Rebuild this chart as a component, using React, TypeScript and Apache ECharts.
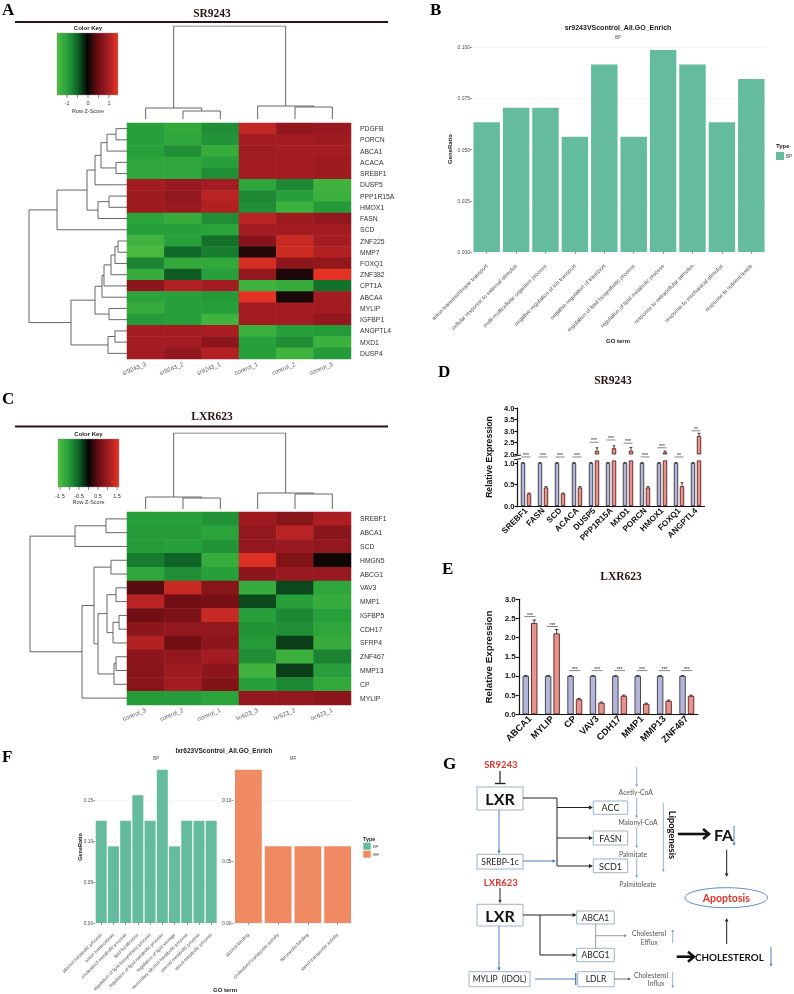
import React, { useEffect, useRef } from "react";
import * as echarts from "echarts";

const SANS = "'Liberation Sans', Arial, Helvetica, sans-serif";
const SERIF = "'Liberation Serif', 'Times New Roman', serif";
const CAL = "Lato, 'Liberation Sans', sans-serif";

// ---------------- Panel A: SR9243 heatmap ----------------
const aCols = ["sr9243_3", "sr9243_2", "sr9243_1", "control_1", "control_2", "control_3"];
const aRows = ["PDGFB", "PORCN", "ABCA1", "ACACA", "SREBF1", "DUSP5", "PPP1R15A", "HMOX1", "FASN", "SCD", "ZNF225", "MMP7", "FOXQ1", "ZNF382", "CPT1A", "ABCA4", "MYLIP", "IGFBP1", "ANGPTL4", "MXD1", "DUSP4"];
const aZ = [
  [-1.0, -1.15, -0.85, 1.2, 0.85, 0.9],
  [-1.0, -1.1, -0.9, 1.0, 1.0, 0.95],
  [-1.0, -0.85, -1.2, 0.95, 1.0, 1.0],
  [-1.1, -1.1, -1.0, 1.0, 1.0, 0.95],
  [-1.1, -1.1, -0.85, 1.0, 1.0, 0.95],
  [1.0, 0.9, 1.0, -1.1, -0.8, -1.3],
  [0.95, 0.85, 1.15, -0.8, -1.0, -1.25],
  [0.95, 0.9, 1.1, -0.85, -1.25, -0.95],
  [-1.05, -1.2, -0.85, 1.15, 0.95, 0.85],
  [-1.0, -1.0, -1.05, 1.0, 1.0, 1.0],
  [-1.3, -1.0, -0.6, 0.75, 1.25, 1.0],
  [-1.4, -0.55, -0.7, 0.15, 1.3, 1.1],
  [-0.75, -1.15, -1.15, 1.35, 0.8, 0.85],
  [-1.2, -0.45, -1.0, 0.85, 0.12, 1.45],
  [0.8, 1.1, 1.0, -1.3, -1.2, -0.6],
  [-1.05, -1.0, -0.95, 1.45, 0.1, 1.0],
  [-1.2, -1.0, -1.0, 1.0, 1.0, 1.0],
  [-0.95, -1.0, -1.3, 1.0, 1.0, 0.85],
  [1.0, 1.0, 1.05, -1.25, -1.0, -0.95],
  [1.0, 1.0, 0.8, -1.0, -0.85, -1.25],
  [1.0, 0.85, 1.1, -1.0, -1.3, -0.95],
];
type Tree = number | [Tree, Tree, number];
// merge trees: [left, right, height]
const aRowTree: Tree = [
  [[[[[[0, 1, 11], 2, 20], [3, 4, 11], 26], 5, 32], [[6, 7, 18], 8, 29], 40], 9, 70],
  [[[[[[[10, 11, 9], 12, 12], 13, 16], 14, 23], 15, 25], [16, 17, 18], 32], [[18, 19, 12], 20, 19], 56],
  98,
];
const aColTree: Tree = [[0, [1, 2, 8], 11], [3, [4, 5, 12], 13], 93];

// ---------------- Panel B: GO enrichment SR9243 ----------------
const bTerms = [
  "anion transmembrane transport",
  "cellular response to external stimulus",
  "multi-multicellular organism process",
  "negative regulation of ion transport",
  "negative regulation of transport",
  "regulation of lipid biosynthetic process",
  "regulation of lipid metabolic process",
  "response to extracellular stimulus",
  "response to mechanical stimulus",
  "response to nutrient levels",
];
const bRatio = [0.0634, 0.0704, 0.0704, 0.0563, 0.0915, 0.0563, 0.0986, 0.0915, 0.0634, 0.0845];

// ---------------- Panel C: LXR623 heatmap ----------------
const cCols = ["control_3", "control_2", "control_1", "lxr623_3", "lxr623_2", "lxr623_1"];
const cRows = ["SREBF1", "ABCA1", "SCD", "HMGN5", "ABCG1", "VAV3", "MMP1", "IGFBP5", "CDH17", "SFRP4", "ZNF467", "MMP13", "CP", "MYLIP"];
const cZ = [
  [-1.0, -1.0, -0.9, 0.95, 0.75, 1.05],
  [-0.95, -0.95, -1.05, 0.85, 1.15, 0.75],
  [-0.95, -1.0, -0.9, 0.85, 0.9, 0.85],
  [-0.7, -0.5, -1.2, 1.4, 0.7, 0.05],
  [-1.1, -0.85, -1.0, 0.8, 0.9, 0.9],
  [0.4, 1.25, 0.75, -1.2, -0.35, -1.1],
  [1.15, 0.55, 0.6, -0.35, -1.0, -1.2],
  [0.55, 0.65, 1.25, -1.0, -0.8, -1.0],
  [0.8, 0.85, 0.85, -0.9, -0.85, -1.1],
  [1.1, 0.55, 0.8, -0.95, -0.3, -1.2],
  [0.8, 0.85, 1.0, -0.85, -1.25, -0.75],
  [0.75, 0.95, 0.8, -1.3, -0.3, -1.0],
  [0.75, 1.0, 0.7, -1.0, -0.8, -1.15],
  [-0.95, -0.95, -1.05, 0.85, 0.85, 0.8],
];
const cRowTree: Tree = [
  [[0, 1, 21], 2, 52],
  [[[3, 4, 16], [[[5, 6, 11], [[7, 8, 8], 9, 14], 20], [[10, 11, 11], 12, 13], 29], 33], 13, 45],
  97,
];
const cColTree: Tree = [[0, [1, 2, 11], 12], [3, [4, 5, 15], 16], 76];

// ---------------- Panel D: qPCR SR9243 ----------------
const dGenes = ["SREBF1", "FASN", "SCD", "ACACA", "DUSP5", "PPP1R15A", "MXD1", "PORCN", "HMOX1", "FOXQ1", "ANGPTL4"];
const dCtrl = [1, 1, 1, 1, 1, 1, 1, 1, 1, 1, 1];
const dCtrlErr = [0.01, 0.01, 0.01, 0.01, 0.01, 0.01, 0.01, 0.01, 0.01, 0.01, 0.01];
const dTreat = [0.29, 0.43, 0.29, 0.43, 2.14, 2.25, 2.14, 0.43, 2.07, 0.46, 2.78];
const dTreatErr = [0.01, 0.02, 0.01, 0.02, 0.13, 0.11, 0.14, 0.02, 0.06, 0.08, 0.12];
const dSig = ["***", "***", "***", "***", "***", "***", "***", "***", "***", "**", "**"];
const dSigY = [1.14, 1.14, 1.14, 1.14, 2.51, 2.61, 2.47, 1.14, 2.27, 1.14, 3.01];

// ---------------- Panel E: qPCR LXR623 ----------------
const eGenes = ["ABCA1", "MYLIP", "CP", "VAV3", "CDH17", "MMP1", "MMP13", "ZNF467"];
const eCtrl = [1, 1, 1, 1, 1, 1, 1, 1];
const eCtrlErr = [0.01, 0.01, 0.01, 0.01, 0.01, 0.01, 0.01, 0.01];
const eTreat = [2.38, 2.11, 0.39, 0.3, 0.48, 0.27, 0.35, 0.48];
const eTreatErr = [0.08, 0.1, 0.02, 0.02, 0.02, 0.02, 0.02, 0.02];
const eSig = ["***", "***", "***", "***", "***", "***", "***", "***"];
const eSigY = [2.55, 2.29, 1.14, 1.14, 1.14, 1.14, 1.14, 1.14];

// ---------------- Panel F: GO enrichment LXR623 ----------------
const fBpTerms = [
  "alcohol metabolic process",
  "anion homeostasis",
  "cholesterol metabolic process",
  "lipid localization",
  "regulation of lipid biosynthetic process",
  "regulation of lipid metabolic process",
  "regulation of lipid storage",
  "secondary alcohol metabolic process",
  "steroid metabolic process",
  "sterol metabolic process",
];
const fBpRatio = [0.125, 0.09375, 0.125, 0.15625, 0.125, 0.1875, 0.09375, 0.125, 0.125, 0.125];
const fMfTerms = ["alcohol binding", "cholesterol transporter activity", "fibronectin binding", "sterol transporter activity"];
const fMfRatio = [0.125, 0.0625, 0.0625, 0.0625];

// ---------------- styles ----------------
const HEAT = ["#4fbf3f", "#27a03b", "#0e6526", "#050505", "#6c0e12", "#a31c22", "#eb3524"];
const TEAL = "#64bb9d";
const SALMON = "#ef8a62";
const BLUEBAR = "#b5b5dc";
const REDBAR = "#e7928d";
const RED = "#e3312b";
const BLUE = "#4f7fb8";
const LBLUE = "#7d9dc6";
const BOXS = "#9fb3c9";

function dendroSegs(t: Tree, out: number[][][]): { p: number; h: number } {
  if (typeof t === "number") return { p: t + 0.5, h: 0 };
  const l = dendroSegs(t[0], out);
  const r = dendroSegs(t[1], out);
  out.push([[l.p, l.h], [l.p, t[2]], [r.p, t[2]], [r.p, r.h]]);
  return { p: (l.p + r.p) / 2, h: t[2] };
}

const tickFmt = (step: number, dec: number) => (v: number) =>
  Math.abs(v / step - Math.round(v / step)) < 1e-6 ? v.toFixed(dec) : "";

function txt(x: number, y: number, text: string, o: any = {}) {
  const { rotation, ...st } = o;
  return {
    type: "text",
    x,
    y,
    rotation: rotation || 0,
    silent: true,
    style: { text, fontSize: 8, fill: "#111", fontFamily: SANS, align: "center", verticalAlign: "middle", ...st },
  };
}
function ln(x1: number, y1: number, x2: number, y2: number, color = "#222", lw = 1) {
  return { type: "line", silent: true, shape: { x1, y1, x2, y2 }, style: { stroke: color, lineWidth: lw } };
}
function arrow(x1: number, y1: number, x2: number, y2: number, color = "#222", lw = 1, hs = 4) {
  const dx = x2 - x1, dy = y2 - y1;
  const L = Math.hypot(dx, dy);
  const ux = dx / L, uy = dy / L;
  const bx = x2 - ux * hs, by = y2 - uy * hs;
  const w = hs * 0.5;
  return [
    ln(x1, y1, bx + ux * 0.5, by + uy * 0.5, color, lw),
    {
      type: "polygon",
      silent: true,
      shape: { points: [[x2, y2], [bx - uy * w, by + ux * w], [bx + uy * w, by - ux * w]] },
      style: { fill: color },
    },
  ];
}
function bigArrow(x1: number, y: number, x2: number) {
  return [
    ln(x1, y, x2 - 1, y, "#111", 2.6),
    { type: "polyline", silent: true, shape: { points: [[x2 - 6, y - 5], [x2, y], [x2 - 6, y + 5]] }, style: { stroke: "#111", lineWidth: 2.6, fill: null } },
  ];
}
function box(x: number, y: number, w: number, h: number) {
  return { type: "rect", silent: true, shape: { x, y, width: w, height: h }, style: { fill: "#fff", stroke: BOXS, lineWidth: 1 } };
}

function buildOption() {
  const grid: any[] = [];
  const xAxis: any[] = [];
  const yAxis: any[] = [];
  const series: any[] = [];
  const g: any[] = [];
  const addGrid = (gr: any, xa: any, ya: any) => {
    const i = grid.length;
    grid.push({ outerBoundsMode: "none", containLabel: false, ...gr });
    xAxis.push({ gridIndex: i, ...xa });
    yAxis.push({ gridIndex: i, ...ya });
    return i;
  };
  const hv = (min: number, max: number, inverse = false) => ({ type: "value", min, max, inverse, show: false, splitLine: { show: false } });
  const linesSeries = (gi: number, segs: number[][][]) => ({
    type: "lines",
    coordinateSystem: "cartesian2d",
    xAxisIndex: gi,
    yAxisIndex: gi,
    polyline: true,
    silent: true,
    lineStyle: { color: "#555", width: 0.9, opacity: 1 },
    data: segs.map((s) => ({ coords: s })),
  });

  const heatIdx: number[] = [];
  const heatPanel = (cols: string[], rows: string[], Z: number[][], rowTree: Tree, colTree: Tree, top: number, height: number, colTop: number, colH: number) => {
    const gi = addGrid(
      { left: 127, top, width: 224, height },
      {
        type: "category",
        data: cols,
        axisLine: { show: false },
        axisTick: { show: false },
        splitLine: { show: false },
        axisLabel: { interval: 0, rotate: 22, fontSize: 6, color: "#555", fontFamily: SANS, margin: 5 },
      },
      {
        type: "category",
        data: rows,
        inverse: true,
        position: "right",
        axisLine: { show: false },
        axisTick: { show: false },
        splitLine: { show: false },
        axisLabel: { interval: 0, fontSize: 6.8, color: "#333", fontFamily: SANS, margin: 9 },
      }
    );
    const data: number[][] = [];
    Z.forEach((r, i) => r.forEach((v, j) => data.push([j, i, v])));
    heatIdx.push(series.length);
    series.push({ type: "heatmap", xAxisIndex: gi, yAxisIndex: gi, data, silent: true, itemStyle: { borderWidth: 0 }, emphasis: { disabled: true } });
    const cs: number[][][] = [];
    dendroSegs(colTree, cs);
    const cg = addGrid({ left: 127, top: colTop, width: 224, height: colH }, hv(0, cols.length), hv(0, colH));
    series.push(linesSeries(cg, cs));
    const rs: number[][][] = [];
    dendroSegs(rowTree, rs);
    const rg = addGrid({ left: 27, top, width: 100, height }, hv(0, 100, true), hv(0, rows.length, true));
    series.push(linesSeries(rg, rs.map((s) => s.map(([p, h]) => [h, p]))));
  };

  heatPanel(aCols, aRows, aZ, aRowTree, aColTree, 123, 236, 26, 93);
  heatPanel(cCols, cRows, cZ, cRowTree, cColTree, 512, 193, 433, 76);

  // ---- GO bar panels (B, F) ----
  const goX = (terms: string[], fs: number, offset: number) => ({
    type: "category",
    data: terms,
    offset,
    axisLine: { show: false },
    axisTick: { show: true, alignWithLabel: true, length: 2, lineStyle: { color: "#555", width: 0.6 } },
    splitLine: { show: false },
    axisLabel: { interval: 0, rotate: 45, fontSize: fs, color: "#4d4d4d", fontFamily: SANS, margin: 3 },
  });
  const goY = (max: number, step: number, dec: number, fs: number) => ({
    type: "value",
    min: 0,
    max,
    interval: step,
    axisLine: { show: false },
    axisTick: { show: true, length: 2, lineStyle: { color: "#555", width: 0.6 } },
    axisLabel: { fontSize: fs, color: "#4d4d4d", fontFamily: SANS, margin: 2, formatter: tickFmt(step, dec), showMaxLabel: false },
    splitLine: { show: true, showMaxLine: false, lineStyle: { color: "#f0f0f0", width: 0.6 } },
  });
  const bg = addGrid({ left: 472, top: 40, width: 294, height: 212 }, goX(bTerms, 5.5, 10), goY(0.1035, 0.025, 3, 5));
  series.push({ type: "bar", xAxisIndex: bg, yAxisIndex: bg, data: bRatio, barCategoryGap: "10%", silent: true, itemStyle: { color: TEAL } });

  const fl = addGrid({ left: 95.1, top: 762, width: 122.2, height: 161 }, goX(fBpTerms, 4.7, 8), goY(0.197, 0.05, 2, 4.8));
  series.push({ type: "bar", xAxisIndex: fl, yAxisIndex: fl, data: fBpRatio, barCategoryGap: "10%", silent: true, itemStyle: { color: TEAL } });
  const fr = addGrid({ left: 233.5, top: 762, width: 119, height: 161 }, goX(fMfTerms, 4.7, 8), goY(0.13125, 0.05, 2, 4.8));
  series.push({ type: "bar", xAxisIndex: fr, yAxisIndex: fr, data: fMfRatio, barCategoryGap: "10%", silent: true, itemStyle: { color: SALMON } });

  // ---- qPCR panels (D, E) ----
  const blackAxis = { show: true, lineStyle: { color: "#111", width: 1.2 } };
  const yLab = (fs: number, extra: any = {}) => ({ fontSize: fs, fontWeight: "bold", color: "#111", fontFamily: SANS, margin: 3, formatter: (v: number) => v.toFixed(1), ...extra });
  const errSeries = (gi: number, vals: number[], errs: number[], off: number, keep: (v: number) => boolean, cap: number) => ({
    type: "custom",
    xAxisIndex: gi,
    yAxisIndex: gi,
    silent: true,
    clip: false,
    z: 5,
    data: vals.map((v, i) => [i, v, errs[i]]).filter((d) => keep(d[1])),
    renderItem: (_p: any, api: any) => {
      const i = api.value(0), v = api.value(1), e = api.value(2);
      const p0 = api.coord([i, v]);
      const p1 = api.coord([i, v + e]);
      const x = p0[0] + off;
      return {
        type: "group",
        children: [
          { type: "line", shape: { x1: x, y1: p0[1], x2: x, y2: p1[1] }, style: { stroke: "#111", lineWidth: 0.8 } },
          { type: "line", shape: { x1: x - cap, y1: p1[1], x2: x + cap, y2: p1[1] }, style: { stroke: "#111", lineWidth: 0.8 } },
        ],
      };
    },
  });
  const sigSeries = (gi: number, ys: number[], sig: string[], keep: (v: number) => boolean, hw: number) => ({
    type: "custom",
    xAxisIndex: gi,
    yAxisIndex: gi,
    silent: true,
    clip: false,
    z: 6,
    data: ys.map((v, i) => [i, v]).filter((d) => keep(d[1])),
    renderItem: (_p: any, api: any) => {
      const i = api.value(0), y = api.value(1);
      const p = api.coord([i, y]);
      return {
        type: "group",
        children: [
          { type: "line", shape: { x1: p[0] - hw, y1: p[1], x2: p[0] + hw, y2: p[1] }, style: { stroke: "#333", lineWidth: 0.6 } },
          { type: "text", x: p[0], y: p[1] + 0.5, style: { text: sig[i], fontSize: 5, fill: "#222", fontFamily: SANS, align: "center", verticalAlign: "bottom" } },
        ],
      };
    },
  });
  const barStyle = (c: string, b: string) => ({ color: c, borderColor: b, borderWidth: 0.8 });

  const dUp = addGrid(
    { left: 517.5, top: 408, width: 187, height: 46 },
    { type: "category", data: dGenes, show: false },
    { type: "value", min: 2, max: 4, interval: 0.5, axisLine: blackAxis, axisTick: { show: true, length: 3, lineStyle: { color: "#111", width: 1.2 } }, axisLabel: yLab(7.5), splitLine: { show: false } }
  );
  const dLo = addGrid(
    { left: 517.5, top: 460.85, width: 187, height: 45.15 },
    {
      type: "category",
      data: dGenes,
      axisLine: blackAxis,
      axisTick: { show: false },
      axisLabel: { interval: 0, rotate: 45, fontSize: 8.3, fontWeight: "bold", color: "#111", fontFamily: SANS, margin: 3 },
    },
    {
      type: "value",
      min: 0,
      max: 1.05,
      axisLine: blackAxis,
      axisTick: { show: true, customValues: [0, 0.5, 1], length: 3, lineStyle: { color: "#111", width: 1.2 } },
      axisLabel: yLab(7.5, { customValues: [0, 0.5, 1] }),
      splitLine: { show: false },
    }
  );
  const dBar = (gi: number, vals: any[], style: any) => ({ type: "bar", xAxisIndex: gi, yAxisIndex: gi, data: vals, barWidth: 4.3, barGap: "40%", silent: true, itemStyle: style });
  series.push(dBar(dUp, dCtrl.map(() => "-"), barStyle(BLUEBAR, "#222")));
  series.push(dBar(dUp, dTreat.map((v) => (v >= 2 ? v : "-")), barStyle(REDBAR, "#4a1010")));
  series.push(dBar(dLo, dCtrl, barStyle(BLUEBAR, "#222")));
  series.push(dBar(dLo, dTreat, barStyle(REDBAR, "#4a1010")));
  series.push(errSeries(dLo, dCtrl, dCtrlErr, -3, (v) => v <= 1.05, 1.4));
  series.push(errSeries(dLo, dTreat, dTreatErr, 3, (v) => v <= 1.05, 1.4));
  series.push(errSeries(dUp, dTreat, dTreatErr, 3, (v) => v >= 2, 1.4));
  series.push(sigSeries(dLo, dSigY, dSig, (v) => v < 2, 4.5));
  series.push(sigSeries(dUp, dSigY, dSig, (v) => v >= 2, 4.5));

  const eg = addGrid(
    { left: 518.8, top: 599.3, width: 179.2, height: 115 },
    {
      type: "category",
      data: eGenes,
      axisLine: blackAxis,
      axisTick: { show: false },
      axisLabel: { interval: 0, rotate: 45, fontSize: 9.3, fontWeight: "bold", color: "#111", fontFamily: SANS, margin: 3 },
    },
    { type: "value", min: 0, max: 3, interval: 0.5, axisLine: blackAxis, axisTick: { show: true, length: 3, lineStyle: { color: "#111", width: 1.2 } }, axisLabel: yLab(8), splitLine: { show: false } }
  );
  const eBar = (vals: number[], style: any) => ({ type: "bar", xAxisIndex: eg, yAxisIndex: eg, data: vals, barWidth: 6.3, barGap: "35%", silent: true, itemStyle: style });
  series.push(eBar(eCtrl, barStyle(BLUEBAR, "#222")));
  series.push(eBar(eTreat, barStyle(REDBAR, "#4a1010")));
  series.push(errSeries(eg, eCtrl, eCtrlErr, -4.2, () => true, 1.8));
  series.push(errSeries(eg, eTreat, eTreatErr, 4.2, () => true, 1.8));
  series.push(sigSeries(eg, eSigY, eSig, () => true, 5.5));

  // ---------------- graphics ----------------
  const letter = (x: number, y: number, t: string) => txt(x, y, t, { fontSize: 17, fontWeight: "bold", fontFamily: SERIF, align: "left", fill: "#000" });
  g.push(letter(2, 9, "A"), letter(430, 9, "B"), letter(2, 398, "C"), letter(438, 371, "D"), letter(442, 568, "E"), letter(2, 756, "F"), letter(443, 763, "G"));

  const heatTitle = (y: number, t: string, ly: number) => {
    g.push(txt(212, y, t, { fontSize: 11.5, fontWeight: "bold", fontFamily: SERIF, fill: "#2a1414" }));
    g.push(ln(15, ly, 388, ly, "#2a1414", 1.8));
  };
  heatTitle(13, "SR9243", 22);
  heatTitle(416, "LXR623", 426.5);

  const colorKey = (x0: number, y0: number, w: number, h: number, cx: number, unit: number, ticks: number[], labels: number[], titleY: number, labY: number, zY: number) => {
    g.push({
      type: "rect",
      silent: true,
      shape: { x: x0, y: y0, width: w, height: h },
      style: {
        fill: new echarts.graphic.LinearGradient(0, 0, 1, 0, HEAT.map((c, i) => ({ offset: i / (HEAT.length - 1), color: c }))),
        stroke: "#888",
        lineWidth: 0.4,
      },
    });
    g.push(txt(cx, titleY, "Color Key", { fontSize: 6, fontWeight: "bold", fill: "#222" }));
    ticks.forEach((v) => g.push(ln(cx + v * unit, y0 + h, cx + v * unit, y0 + h + 3, "#444", 0.6)));
    labels.forEach((v) => g.push(txt(cx + v * unit, labY, String(v), { fontSize: 5.5, fill: "#333" })));
    g.push(txt(cx, zY, "Row Z-Score", { fontSize: 5.5, fill: "#333" }));
  };
  colorKey(57, 33, 61, 62, 88, 21, [-1, -0.5, 0, 0.5, 1], [-1, 0, 1], 28, 103, 111);
  colorKey(58, 439, 61, 48, 88.5, 19, [-1.5, -1, -0.5, 0, 0.5, 1, 1.5], [-1.5, -0.5, 0.5, 1.5], 434, 496, 502);

  // B texts
  g.push(txt(618, 27, "sr9243VScontrol_All.GO_Enrich", { fontSize: 7, fontWeight: "bold", fill: "#222" }));
  g.push(txt(618, 37.3, "BP", { fontSize: 4.5, fill: "#555" }));
  g.push(txt(450, 149, "GeneRatio", { fontSize: 6, fontWeight: "bold", fill: "#222", rotation: Math.PI / 2 }));
  g.push(txt(618, 341, "GO term", { fontSize: 6, fontWeight: "bold", fill: "#222" }));
  g.push(txt(776, 146, "Type", { fontSize: 6, fontWeight: "bold", fill: "#222", align: "left" }));
  g.push({ type: "rect", silent: true, shape: { x: 776, y: 152, width: 8, height: 8 }, style: { fill: TEAL } });
  g.push(txt(786, 156, "BP", { fontSize: 4.5, fill: "#444", align: "left" }));

  // F texts
  g.push(txt(224, 750, "lxr623VScontrol_All.GO_Enrich", { fontSize: 6.5, fontWeight: "bold", fill: "#222" }));
  g.push(txt(156, 758, "BP", { fontSize: 4.5, fill: "#555" }));
  g.push(txt(293, 758, "MF", { fontSize: 4.5, fill: "#555" }));
  g.push(txt(80, 847, "GeneRatio", { fontSize: 5.5, fontWeight: "bold", fill: "#222", rotation: Math.PI / 2 }));
  g.push(txt(225, 990, "GO term", { fontSize: 6, fontWeight: "bold", fill: "#222" }));
  g.push(txt(363, 839, "Type", { fontSize: 5.5, fontWeight: "bold", fill: "#222", align: "left" }));
  g.push({ type: "rect", silent: true, shape: { x: 363.3, y: 842.7, width: 7.4, height: 7 }, style: { fill: TEAL } });
  g.push({ type: "rect", silent: true, shape: { x: 363.3, y: 850.7, width: 7.4, height: 7 }, style: { fill: SALMON } });
  g.push(txt(373, 846, "BP", { fontSize: 4.3, fill: "#444", align: "left" }));
  g.push(txt(373, 854, "MF", { fontSize: 4.3, fill: "#444", align: "left" }));

  // D / E texts
  g.push(txt(613, 380, "SR9243", { fontSize: 11.5, fontWeight: "bold", fontFamily: SERIF, fill: "#2a1414" }));
  g.push(txt(621, 576, "LXR623", { fontSize: 11.5, fontWeight: "bold", fontFamily: SERIF, fill: "#2a1414" }));
  g.push(txt(488.5, 457, "Relative Expression", { fontSize: 8.6, fontWeight: "bold", rotation: Math.PI / 2 }));
  g.push(txt(488.5, 657, "Relative Expression", { fontSize: 9.8, fontWeight: "bold", rotation: Math.PI / 2 }));
  g.push(ln(514, 456.2, 521, 455, "#111", 1));
  g.push(ln(514, 459.8, 521, 458.6, "#111", 1));

  // ---------------- G diagram ----------------
  const gt = (x: number, y: number, t: string, o: any = {}) => txt(x, y, t, { fontFamily: CAL, fill: "#222", fontSize: 8.5, ...o });
  g.push(gt(500.8, 764.5, "SR9243", { fill: RED, fontWeight: "bold", fontSize: 9.5 }));
  g.push(ln(500, 771, 500, 783.5, "#222", 1.2), ln(495, 783.5, 505.5, 783.5, "#222", 1.4));
  g.push(box(477, 787, 46, 23), gt(500, 798.8, "LXR", { fontWeight: "bold", fontSize: 16, fill: "#111" }));
  g.push(ln(523, 798, 557, 798), ln(557, 798, 557, 866));
  g.push(...arrow(557, 807.5, 593, 807.5), ...arrow(557, 838, 593, 838), ...arrow(557, 866, 593, 866));
  g.push(box(593.3, 801, 34.4, 13.3), gt(610.5, 807.8, "ACC", { fontSize: 9 }));
  g.push(box(593.3, 831, 34.4, 14), gt(610.5, 838.2, "FASN", { fontSize: 9 }));
  g.push(box(593.3, 859, 34.4, 13.7), gt(610.5, 866, "SCD1", { fontSize: 9 }));
  g.push(...arrow(499, 810, 499, 854, BLUE, 1, 3.5));
  g.push(box(477, 854.3, 46, 14.7), gt(500, 861.8, "SREBP-1c", { fontSize: 8.5 }));
  g.push(...arrow(523, 861, 556, 861, BLUE, 1, 3.5));
  // pathway column
  g.push(...arrow(636.7, 767, 636.7, 787, LBLUE, 0.8, 2.8));
  g.push(gt(635.7, 792.3, "Acetly-CoA", { fontSize: 6.8, fill: "#555" }));
  g.push(...arrow(636.7, 797, 636.7, 818.3, LBLUE, 0.8, 2.8));
  g.push(gt(638, 822.3, "Malonyl-CoA", { fontSize: 6.8, fill: "#555" }));
  g.push(...arrow(636.7, 827, 636.7, 848.3, LBLUE, 0.8, 2.8));
  g.push(gt(633, 853.7, "Palmitate", { fontSize: 6.8, fill: "#555" }));
  g.push(...arrow(636.7, 857.5, 636.7, 878.3, LBLUE, 0.8, 2.8));
  g.push(gt(637.7, 884, "Palmitoleate", { fontSize: 6.8, fill: "#555" }));
  g.push(...arrow(663.3, 803, 663.3, 872, LBLUE, 0.8, 2.8));
  g.push(gt(672, 835, "Lipogenesis", { fontSize: 9.3, fontWeight: "bold", fill: "#111", rotation: -Math.PI / 2 }));
  g.push(...bigArrow(678, 834, 709));
  g.push(gt(714, 834, "FA", { fontSize: 16, fontWeight: "bold", fill: "#111", align: "left" }));
  g.push(...arrow(734, 826, 734, 846, BLUE, 1, 3));
  g.push(...arrow(726.7, 850, 726.7, 877, "#222", 1, 3.5));
  g.push({ type: "ellipse", silent: true, shape: { cx: 726.3, cy: 897.7, rx: 41.3, ry: 10 }, style: { fill: "#fff", stroke: "#5b8bc8", lineWidth: 1 } });
  g.push(gt(726.3, 898, "Apoptosis", { fontSize: 10.5, fontWeight: "bold", fill: RED }));
  g.push(...arrow(726.7, 944, 726.7, 918, "#222", 1, 3.5));
  g.push(gt(500.8, 882.5, "LXR623", { fill: RED, fontWeight: "bold", fontSize: 9.5 }));
  g.push(...arrow(500, 888, 500, 903.5, "#444", 1.2, 3.5));
  g.push(box(477, 904.3, 46, 21.7), gt(500, 915.5, "LXR", { fontWeight: "bold", fontSize: 16, fill: "#111" }));
  g.push(...arrow(523, 915, 576.7, 915), ln(540, 915, 540, 955), ...arrow(540, 955, 576.7, 955));
  g.push(box(576.7, 911, 37.6, 13), gt(595.5, 917.7, "ABCA1", { fontSize: 8.5 }));
  g.push(box(576.7, 948.3, 37.6, 13.4), gt(595.5, 955.2, "ABCG1", { fontSize: 8.5 }));
  g.push(ln(595.7, 924, 595.7, 948.3, "#9a9a9a", 1), ...arrow(595.7, 935.7, 627, 935.7, "#888", 0.8, 3));
  g.push(gt(649, 932.7, "Cholesterol", { fontSize: 6.8, fill: "#555" }), gt(649.3, 941.7, "Efflux", { fontSize: 6.8, fill: "#555" }));
  g.push(...arrow(672.7, 943.3, 672.7, 929.3, LBLUE, 0.8, 2.8));
  g.push(...arrow(499, 926, 499, 971, BLUE, 1, 3.5));
  g.push(box(469, 971.7, 61, 15), gt(499.5, 979.4, "MYLIP  (IDOL)", { fontSize: 8.5 }));
  g.push(ln(535, 979, 575.7, 979, BLUE, 1.2), ln(575.7, 973, 575.7, 985, BLUE, 1.4));
  g.push(box(577.7, 971.7, 36.6, 15), gt(596, 979.4, "LDLR", { fontSize: 8.5 }));
  g.push(...arrow(614.3, 979, 631, 979, "#555", 0.8, 3));
  g.push(gt(651, 975, "Cholesterol", { fontSize: 6.8, fill: "#555" }), gt(656, 983.3, "Influx", { fontSize: 6.8, fill: "#555" }));
  g.push(...arrow(672.7, 971.7, 672.7, 988.3, LBLUE, 0.8, 2.8));
  g.push(...bigArrow(676.7, 956.7, 694));
  g.push(gt(695, 956.9, "CHOLESTEROL", { fontSize: 9.8, fontWeight: "bold", fill: "#111", align: "left" }));
  g.push(...arrow(771, 946.7, 771, 966.7, BLUE, 1, 3));

  return {
    animation: false,
    grid,
    xAxis,
    yAxis,
    visualMap: [
      {
        type: "continuous",
        show: false,
        min: -1.5,
        max: 1.5,
        dimension: 2,
        seriesIndex: heatIdx,
        inRange: { color: HEAT },
      },
    ],
    series,
    graphic: g,
  };
}

export default function App() {
  const ref = useRef<HTMLDivElement>(null);
  useEffect(() => {
    if (!ref.current) return;
    const chart = echarts.init(ref.current, null, { renderer: "svg" });
    chart.setOption(buildOption() as any);
    return () => chart.dispose();
  }, []);
  return <div ref={ref} style={{ position: "absolute", left: 0, top: 0, width: 794, height: 994, willChange: "transform" }} />;
}
